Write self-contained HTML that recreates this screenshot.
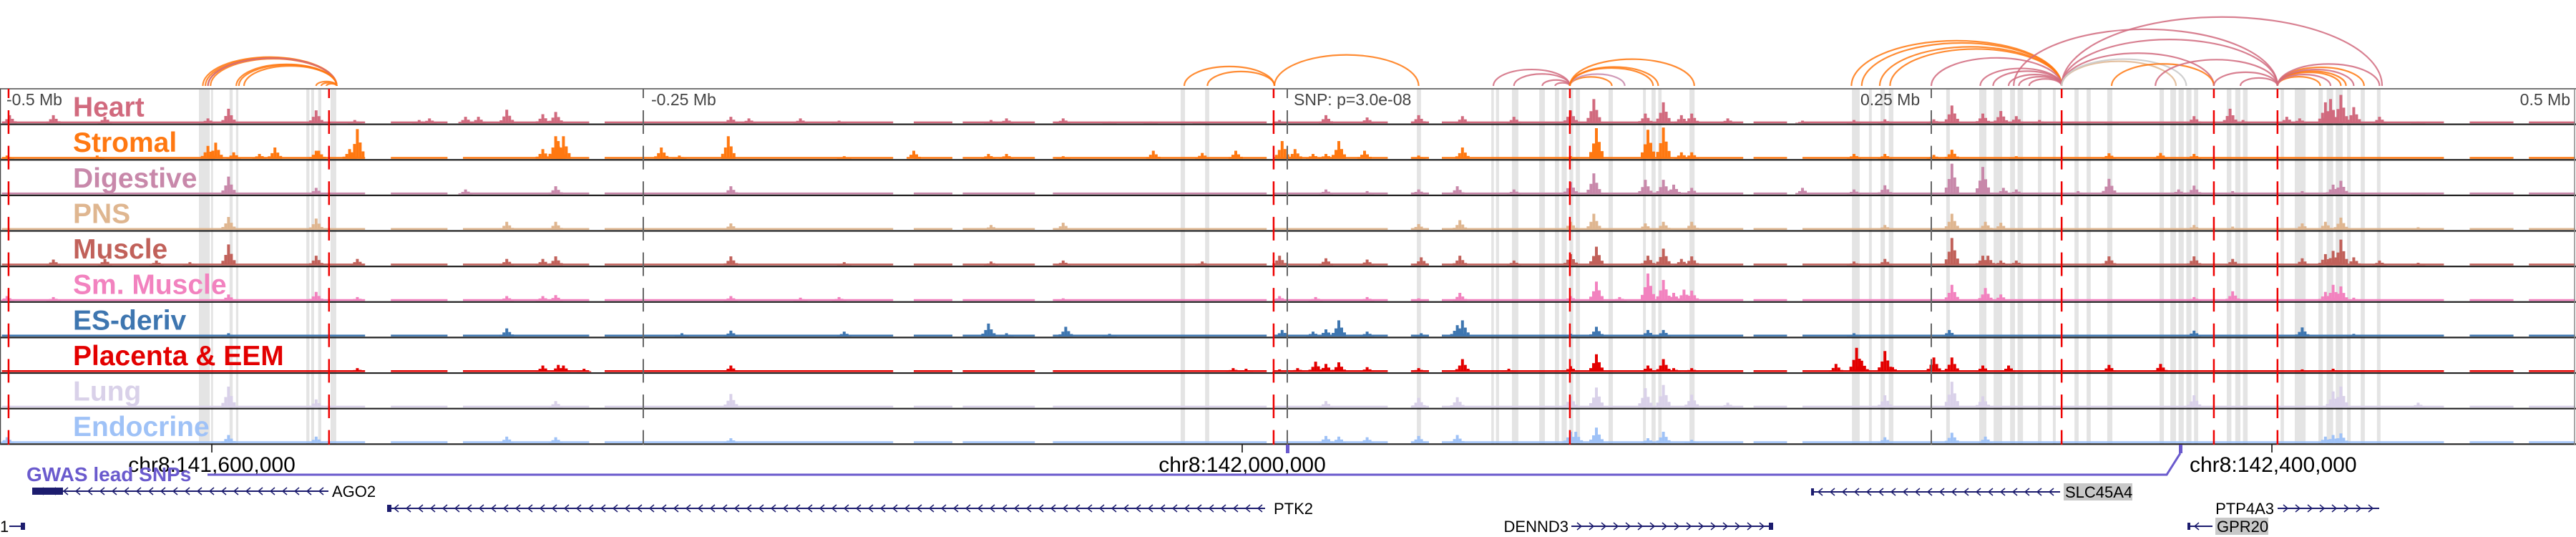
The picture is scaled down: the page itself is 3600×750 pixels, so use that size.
<!DOCTYPE html>
<html><head><meta charset="utf-8"><style>
html,body{margin:0;padding:0;background:#fff;}
svg{display:block;font-family:"Liberation Sans",sans-serif;}
</style></head><body>
<svg id="chart" width="3600" height="750" viewBox="0 0 3600 750" xmlns="http://www.w3.org/2000/svg">
<g id="cols"></g>
<g id="tracks"></g>
<g id="frame"></g>
<g id="vlines"></g>
<g id="arcs"></g>
<g id="labels"></g>
<g font-size="23" fill="#444">
<text x="9" y="147">-0.5 Mb</text>
<text x="910" y="147">-0.25 Mb</text>
<text x="1808" y="147">SNP: p=3.0e-08</text>
<text x="2600" y="147">0.25 Mb</text>
<text x="3592" y="147" text-anchor="end">0.5 Mb</text>
</g>
<g font-size="30" fill="#000">
<line x1="296" y1="621" x2="296" y2="632" stroke="#000" stroke-width="1.5"/>
<line x1="1736" y1="621" x2="1736" y2="632" stroke="#000" stroke-width="1.5"/>
<line x1="3175" y1="621" x2="3175" y2="632" stroke="#000" stroke-width="1.5"/>
<text x="296" y="659" text-anchor="middle">chr8:141,600,000</text>
<text x="1736" y="659" text-anchor="middle">chr8:142,000,000</text>
<text x="3060" y="659">chr8:142,400,000</text>
</g>
<g>
<polyline points="290,663 3028,663 3047,633" fill="none" stroke="#6a5acd" stroke-width="3"/>
<rect x="1797" y="621" width="5" height="12" fill="#6a5acd"/>
<rect x="3045" y="621" width="5" height="12" fill="#6a5acd"/>
<text x="37" y="672" font-size="28" font-weight="bold" fill="#6a5acd">GWAS lead SNPs</text>
</g>
<g id="genes" font-size="22" fill="#000"></g>
</svg>
<script>
// ---- data ----
const tracks = ["Heart","Stromal","Digestive","PNS","Muscle","Sm. Muscle","ES-deriv","Placenta & EEM","Lung","Endocrine"];
const trackColors = ["#d16a7e","#ff7811","#c888aa","#dfb690","#c1615a","#f282bf","#3e76b0","#e30000","#d9d1e9","#9fc2f7"];
// peaks per track: positions (kb from lead SNP) and relative heights
const heartPos = [-496,-479,-459,-419,-411,-377,-362,-337,-333,-319,-314,-303,-289,-284,-216,-209,-189,-174,-115,-109,-87,-69,-53,-34,-3,15,31,51,68,88,110,119,139,146,153,157,171,200,220,232,251,258,270,277,283,292,305,320,352,366,371,388,393,403,405,409,414,424,439];
const heartVal = [.25,.25,.2,.15,.45,.4,.1,.1,.15,.2,.2,.42,.28,.35,.2,.15,.15,.08,.1,.15,.15,.05,.05,.05,.1,.25,.18,.25,.22,.2,.4,.75,.3,.65,.25,.3,.15,.08,.1,.12,.12,.55,.3,.38,.22,.1,.05,.05,.22,.45,.1,.2,.15,.65,.75,.88,.5,.2,.05];
const stromalPos = [-497,-462,-419,-416,-409,-399,-393,-377,-376,-364,-361,-289,-284,-283,-281,-243,-236,-217,-172,-145,-116,-109,-87,-52,-33,-20,-2,3,10,15,20,30,51,68,110,120,140,146,153,157,220,232,251,258,283,319,339,352];
const stromalVal = [.1,.1,.4,.5,.2,.15,.35,.25,.25,.3,.92,.3,.7,.55,.7,.35,.1,.7,.08,.25,.15,.15,.08,.25,.18,.25,.55,.3,.15,.15,.55,.25,.1,.35,.08,.95,.9,.97,.2,.2,.15,.15,.12,.28,.08,.17,.18,.15];
const digestivePos = [-411,-377,-319,-284,-216,15,31,51,66,88,110,119,139,146,150,157,200,220,232,258,270,278,283,307,319,346,352,367,394,406,409,439];
const digestiveVal = [.55,.2,.15,.25,.25,.15,.1,.15,.25,.15,.38,.65,.45,.45,.3,.2,.2,.15,.28,.95,.85,.2,.15,.1,.48,.15,.27,.1,.1,.3,.42,.05];
const pnsPos = [-411,-377,-303,-284,-216,-115,-87,51,67,110,119,139,146,157,232,258,271,277,352,367,394,403,409,439];
const pnsVal = [.4,.35,.25,.25,.2,.15,.22,.18,.3,.25,.5,.2,.25,.25,.15,.5,.25,.22,.15,.1,.2,.25,.38,.08];
const musclePos = [-479,-459,-439,-426,-411,-377,-361,-303,-289,-284,-216,-172,-115,-87,-33,-3,15,31,52,67,88,110,120,140,146,153,157,220,232,258,270,272,277,283,319,352,367,394,403,406,409,414,424,439];
const muscleVal = [.18,.2,.15,.1,.65,.3,.2,.2,.2,.28,.28,.1,.12,.15,.12,.3,.22,.18,.25,.3,.15,.35,.58,.3,.52,.2,.28,.12,.2,.85,.3,.3,.15,.15,.28,.28,.2,.22,.35,.45,.8,.25,.15,.08];
const smMusclePos = [-497,-479,-411,-377,-361,-303,-289,-284,-216,-189,-174,-87,-3,11,31,51,67,110,120,129,140,146,150,154,157,258,271,277,352,367,403,406,409,414];
const smMuscleVal = [.15,.12,.2,.28,.12,.15,.15,.18,.15,.1,.12,.08,.15,.12,.12,.08,.25,.15,.6,.12,.85,.65,.25,.35,.32,.5,.4,.2,.12,.3,.28,.5,.45,.1];
const esPos = [-411,-303,-235,-216,-172,-116,-109,-86,-69,-2,10,15,20,31,52,66,68,110,120,140,146,220,257,352,394,414];
const esVal = [.1,.25,.1,.18,.15,.4,.1,.3,.08,.2,.15,.22,.5,.15,.1,.35,.5,.08,.3,.2,.2,.1,.2,.18,.28,.08];
const placentaPos = [-361,-289,-283,-281,-273,-216,-21,-16,-3,4,11,15,20,31,51,68,86,110,120,140,146,150,157,213,221,223,232,235,251,258,270,280,319,339,394,406];
const placentaVal = [.12,.2,.22,.2,.1,.2,.12,.1,.08,.12,.32,.25,.3,.15,.12,.4,.1,.18,.55,.2,.4,.12,.12,.25,.75,.35,.65,.15,.45,.45,.2,.2,.22,.25,.08,.1];
const lungPos = [-411,-377,-284,-216,15,51,66,110,120,139,146,157,171,232,258,270,352,406,409,439];
const lungVal = [.65,.25,.2,.42,.2,.3,.32,.35,.62,.6,.7,.4,.15,.38,.8,.35,.38,.5,.65,.15];
const endocrinePos = [-497,-411,-377,-303,-284,-216,15,20,31,51,66,110,112,120,140,146,157,232,258,271,403,406,409];
const endocrineVal = [.18,.25,.2,.2,.18,.15,.22,.2,.18,.22,.25,.35,.35,.48,.15,.35,.1,.18,.32,.2,.2,.25,.3];
const trackPeakPos = [heartPos,stromalPos,digestivePos,pnsPos,musclePos,smMusclePos,esPos,placentaPos,lungPos,endocrinePos];
const trackPeakVal = [heartVal,stromalVal,digestiveVal,pnsVal,muscleVal,smMuscleVal,esVal,placentaVal,lungVal,endocrineVal];
// regions without signal (kb)
const gapStart = [-358,-326,-271,-153,-130,-98,-8,39,55,177,194,449,476];
const gapEnd = [-349,-321,-266,-146,-127,-92,-6,47,59,180,199,458,481];
// highlighted enhancer columns (kb)
const colStart = [-422.5,-417.8,-410.6,-408.1,-380.8,-378.9,-376.2,-371.4,-41.4,-31.9,50.3,79.2,81,87.2,97.8,103.9,106.5,109.5,112,124.7,138.1,141.4,144,156.1,219.2,225.8,230.3,233.5,255.8,268.6,274.2,280.6,283.5,291.4,297.2,305.6,310.3,318.3,338.6,342.8,346,349,352,364.7,368,371,385.6,391.1,400.3,403.5,407,411.4,416.7,423];
const colEnd = [-418.3,-417.0,-409.4,-407.2,-379.6,-377.8,-375.0,-369.2,-39.7,-30.3,51.9,80.2,82.2,89.7,100,105.5,108.5,111,113.6,126.4,139.2,143,145.3,158.1,222.2,226.9,232,235.3,257.2,271.4,277.5,282.5,285.6,292.8,298.3,307.2,311.9,320.3,340.3,345,348,351,353.6,366.5,370,372.8,386.9,395.3,402,406,409.7,412.8,418.3,424.4];
// red variant lines and grey reference lines (kb)
const redLines = [-496.4,-372,-5.3,109.7,300.6,359.7,384.4];
const greyLines = [-250,0,250];
// loop arcs (kb anchors) and tissue index
const arcFrom = [-421,-420,-419,-418,-419,-408,-407,-405,-377,-375,-373,-40,-31,-5,80,88,99,104,109.7,109.7,109.7,109.7,109.7,219,223,230,234,250,269,274,280,284,288,300.6,300.6,300.6,300.6,300.6,320,282,337,359.7,370,384.4,384.4,384.4,384.4,384.4,384.4,384.4];
const arcTo = [-369,-369,-369,-369,-369,-369,-369,-369,-369,-369,-369,-5,-5,51,109.7,109.7,109.7,109.7,126,131,142,144,158,300.6,300.6,300.6,300.6,300.6,300.6,300.6,300.6,300.6,300.6,359.7,384.4,425,345,349,359.7,384.4,384.4,384.4,384.4,401,409,411,418,424,414,405];
const arcTissue = [1,1,1,1,0,1,1,1,1,1,1,1,1,1,0,0,0,0,1,2,1,1,1,1,1,1,1,0,0,0,0,0,0,0,0,0,3,10,1,0,0,0,0,1,1,1,1,0,0,0];

// ---- scales ----
const W=3600, frameL=0, frameR=3598;
const xOf = kb => 1799 + kb*3.6;
const rowTop = i => 124 + 49.63*i;
const rowH = 49.63, maxBar = 45;
const NS="http://www.w3.org/2000/svg";
function mk(tag, attrs, parent){const e=document.createElementNS(NS,tag);for(const k in attrs)e.setAttribute(k,attrs[k]);parent.appendChild(e);return e;}
const arcColor = t => t===10 ? "#c8c8c8" : trackColors[t];

// highlight columns
const cols=document.getElementById('cols');
for(let i=0;i<colStart.length;i++){
  const r=mk('rect',{x:xOf(colStart[i]),y:124,width:Math.max(2,xOf(colEnd[i])-xOf(colStart[i])),height:497,fill:'#e4e4e4'},cols);
  
  
}

// signal tracks
const tg=document.getElementById('tracks');
function inGap(kb){for(let g=0;g<gapStart.length;g++){if(kb>=gapStart[g]&&kb<=gapEnd[g])return true;}return false;}
tracks.forEach((name,ti)=>{
  const g=mk('g',{fill:trackColors[ti]},tg);
  
  
  const base=rowTop(ti+1)-1.5;
  // baseline coverage
  let s=null;
  for(let kb=-499;kb<=500;kb+=1){
    const gp=inGap(kb)||kb===500;
    if(!gp && s===null) s=kb;
    if(gp && s!==null){ mk('rect',{x:xOf(s),y:base-2.5,width:xOf(kb)-xOf(s),height:2.5},g); s=null; }
  }
  const P=trackPeakPos[ti], V=trackPeakVal[ti];
  for(let k=0;k<P.length;k++){
    const x=xOf(P[k]), h=V[k]*maxBar;
    const b=mk('rect',{x:x-2,y:base-h,width:4,height:h},g);
    
    
    mk('rect',{x:x-6,y:base-h*0.5,width:4,height:h*0.5},g);
    mk('rect',{x:x+2,y:base-h*0.55,width:4,height:h*0.55},g);
    mk('rect',{x:x-10,y:base-h*0.22,width:4,height:h*0.22},g);
    mk('rect',{x:x+6,y:base-h*0.25,width:4,height:h*0.25},g);
  }
});

// frame
const fr=document.getElementById('frame');
mk('line',{x1:0,y1:124,x2:W,y2:124,stroke:'#777','stroke-width':2},fr);
for(let i=1;i<=10;i++){
  const l=mk('line',{x1:0,y1:rowTop(i),x2:W,y2:rowTop(i),stroke:'#222','stroke-width':2.2},fr);
  
  
}
mk('line',{x1:0.5,y1:124,x2:0.5,y2:621,stroke:'#444','stroke-width':1.5},fr);
mk('line',{x1:frameR,y1:124,x2:frameR,y2:621,stroke:'#888','stroke-width':1.5},fr);

// vertical marker lines (dashed per row)
const vl=document.getElementById('vlines');
function dashLine(kb,color,w,name){
  const x=xOf(kb);
  for(let i=0;i<10;i++){
    const y0=rowTop(i)+30, y1=Math.min(rowTop(i)+63,621);
    const l=mk('line',{x1:x,y1:y0,x2:x,y2:y1,stroke:color,'stroke-width':w},vl);
    
    
  }
  mk('line',{x1:x,y1:124,x2:x,y2:rowTop(0)+13,stroke:color,'stroke-width':w},vl);
}
greyLines.forEach(kb=>dashLine(kb,'#666',2,'reference-line'));
redLines.forEach(kb=>dashLine(kb,'#ee0000',2.5,'variant-line'));

// arcs
const ag=document.getElementById('arcs');
for(let i=0;i<arcFrom.length;i++){
  const x1=xOf(arcFrom[i]), x2=xOf(arcTo[i]);
  const rx=(x2-x1)/2, ry=rx*0.43;
  const p=mk('path',{d:`M${x1} 120 A${rx} ${ry} 0 0 1 ${x2} 120`,fill:'none',stroke:arcColor(arcTissue[i]),'stroke-width':2.2,opacity:0.85},ag);
  
  
}

// track labels
const lg=document.getElementById('labels');
tracks.forEach((name,ti)=>{
  const t=mk('text',{x:102,y:rowTop(ti)+38.5,'font-size':39,'font-weight':'bold',fill:trackColors[ti]},lg);
  t.textContent=name;
  
  
});

// genes
const gg=document.getElementById('genes');
const NAVY="#1c1c6e";
function gene(name,x1,x2,y,dir,thick,labelX,anchor,box){
  const g=mk('g',{},gg);
  
  
  mk('line',{x1:x1,y1:y,x2:x2,y2:y,stroke:NAVY,'stroke-width':2},g);
  for(let x=x1+12;x<x2-6;x+=17){
    const d=dir<0?`M${x+4} ${y-5} L${x-2} ${y} L${x+4} ${y+5}`:`M${x-4} ${y-5} L${x+2} ${y} L${x-4} ${y+5}`;
    mk('path',{d:d,fill:'none',stroke:NAVY,'stroke-width':1.5},g);
  }
  thick.forEach(t=>mk('rect',{x:t[0],y:y-5,width:t[1]-t[0],height:10,fill:NAVY},g));
  if(box) mk('rect',{x:box[0],y:y-12,width:box[1]-box[0],height:24,fill:'#c8c8c8'},g);
  if(name){const t=mk('text',{x:labelX,y:y+8,'text-anchor':anchor,'font-size':22},g);t.textContent=name;}
}
gene('AGO2',45,459,686,-1,[[45,88]],464,'start');
gene('PTK2',541,1768,710,-1,[[541,547]],1780,'start');
gene('DENND3',2196,2477,735,1,[[2472,2478]],2192,'end');
gene('SLC45A4',2531,2879,687,-1,[[2531,2535]],2886,'start',[2884,2980]);
gene('PTP4A3',3183,3325,710,1,[],3178,'end');
gene('GPR20',3057,3092,735,-1,[[3057,3061]],3098,'start',[3096,3170]);
const one=mk('text',{x:0,y:743,'font-size':22},gg);one.textContent='1';
mk('line',{x1:13,y1:735,x2:34,y2:735,stroke:NAVY,'stroke-width':2},gg);
mk('rect',{x:29,y:730,width:6,height:10,fill:NAVY},gg);
</script>
</body></html>
